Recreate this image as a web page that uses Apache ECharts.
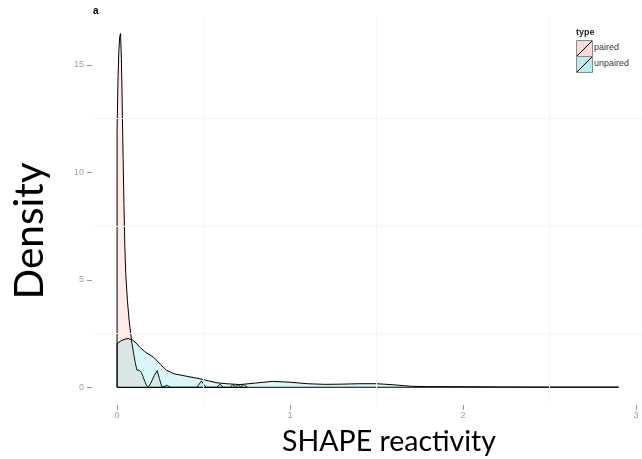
<!DOCTYPE html>
<html>
<head>
<meta charset="utf-8">
<script src="https://cdn.jsdelivr.net/npm/echarts@6/dist/echarts.min.js"></script>
<style>
  html, body { margin: 0; padding: 0; background: #fff; }
  #chart { width: 642px; height: 459px; }
</style>
</head>
<body>
<div id="chart"></div>
<script>
// Kernel density of SHAPE reactivity, split by base-pairing state
const pairedX = [0, 0.005, 0.01, 0.015, 0.02, 0.025, 0.03, 0.035, 0.04, 0.045, 0.05, 0.06, 0.07, 0.083, 0.095,
  0.105, 0.115, 0.122, 0.128, 0.134, 0.141, 0.15, 0.16, 0.17, 0.18, 0.195, 0.215, 0.232, 0.245, 0.258,
  0.27, 0.285, 0.295, 0.31, 0.46, 0.475, 0.488, 0.5, 0.515, 0.575, 0.596, 0.615, 0.655, 0.668, 0.685,
  0.7, 0.715, 0.732, 0.752];
const pairedY = [12.0, 14.2, 15.6, 16.3, 16.45, 15.3, 13.0, 10.6, 8.4, 6.5, 5.3, 4.0, 3.1, 2.2, 1.6,
  1.15, 0.8, 0.72, 0.8, 0.72, 0.68, 0.5, 0.28, 0.1, 0.0, 0.2, 0.55, 0.78, 0.4, 0.05,
  0.03, 0.1, 0.1, 0.0, 0.0, 0.15, 0.3, 0.15, 0.0, 0.0, 0.15, 0.0, 0.0, 0.13, 0.04,
  0.12, 0.03, 0.14, 0.0];

const unpairedX = [0, 0.02, 0.04, 0.064, 0.09, 0.11, 0.131, 0.16, 0.185, 0.21, 0.25, 0.285, 0.33, 0.4, 0.478,
  0.53, 0.58, 0.632, 0.71, 0.8, 0.9, 1.0, 1.1, 1.2, 1.3, 1.4, 1.5, 1.6, 1.7, 1.8, 2.0, 2.2, 2.5, 2.9];
const unpairedY = [2.03, 2.15, 2.23, 2.27, 2.2, 2.06, 1.87, 1.66, 1.53, 1.41, 1.08, 0.8, 0.63, 0.52, 0.4,
  0.3, 0.21, 0.17, 0.13, 0.2, 0.28, 0.24, 0.17, 0.14, 0.15, 0.17, 0.17, 0.12, 0.05, 0.035, 0.03, 0.02, 0.01, 0.01];

const xTicks = [0, 1, 2, 3];
const yTicks = [0, 5, 10, 15];
const xMinorGrid = [0.5, 1.5, 2.5];
const yMinorGrid = [2.5, 7.5, 12.5];

// Closed outline: rise from the baseline at the first x, follow the curve,
// drop to the baseline at the last x, then run back along it.
function outline(xs, ys) {
  const pts = [[xs[0], 0]];
  xs.forEach((x, i) => pts.push([x, ys[i]]));
  pts.push([xs[xs.length - 1], 0]);
  pts.push([xs[0], 0]);
  return pts;
}

const chart = echarts.init(document.getElementById('chart'), null, { renderer: 'canvas' });

const tickColor = '#a0a0a0';
const gridColor = '#f6f6f6';

chart.setOption({
  animation: false,
  backgroundColor: '#ffffff',
  grid: { left: 92, right: 0, top: 16, bottom: 54, containLabel: false },
  xAxis: {
    type: 'value',
    position: 'bottom',
    min: -0.145,
    max: 3.035,
    axisLine: { show: false, onZero: false },
    splitLine: { show: false },
    axisTick: { show: true, customValues: xTicks, length: 5, lineStyle: { color: '#999', width: 1 } },
    axisLabel: {
      customValues: xTicks, color: tickColor, fontSize: 9, margin: 6,
      fontFamily: 'Liberation Sans'
    }
  },
  yAxis: {
    type: 'value',
    position: 'left',
    min: -0.82,
    max: 17.27,
    axisLine: { show: false, onZero: false },
    splitLine: { show: false },
    axisTick: { show: true, customValues: yTicks, length: 5, lineStyle: { color: '#999', width: 1 } },
    axisLabel: {
      customValues: yTicks, color: tickColor, fontSize: 9, margin: 8,
      fontFamily: 'Liberation Sans'
    }
  },
  series: [
    {
      name: 'grid',
      type: 'line',
      data: [],
      z: 0,
      silent: true,
      markLine: {
        silent: true,
        symbol: 'none',
        label: { show: false },
        lineStyle: { color: gridColor, width: 1, type: 'solid' },
        data: xMinorGrid.map(v => ({ xAxis: v })).concat(yMinorGrid.map(v => ({ yAxis: v })))
      }
    },
    {
      name: 'paired',
      type: 'line',
      z: 2,
      symbol: 'none',
      smooth: false,
      data: outline(pairedX, pairedY),
      lineStyle: { color: '#000000', width: 1 },
      areaStyle: { color: 'rgba(248,118,109,0.2)', origin: 0 }
    },
    {
      name: 'unpaired',
      type: 'line',
      z: 3,
      symbol: 'none',
      smooth: false,
      data: outline(unpairedX, unpairedY),
      lineStyle: { color: '#000000', width: 1 },
      areaStyle: { color: 'rgba(0,191,196,0.2)', origin: 0 }
    }
  ],
  graphic: [
    // panel tag
    { type: 'text', left: 93, top: 6, style: { text: 'a', font: 'bold 10px "Liberation Sans"', fill: '#000' } },
    // axis titles
    {
      type: 'text', x: 9, y: 231, rotation: Math.PI / 2,
      style: { text: 'Density', font: '40.5px Lato', fill: '#000', align: 'center', verticalAlign: 'top' }
    },
    {
      type: 'text', x: 389, y: 427,
      style: { text: 'SHAPE reactivity', font: '28.5px Lato', fill: '#000', align: 'center', verticalAlign: 'top' }
    },
    // legend
    { type: 'text', left: 576, top: 28, style: { text: 'type', font: 'bold 9px "Liberation Sans"', fill: '#222' } },
    { type: 'rect', shape: { x: 576.5, y: 40.5, width: 16, height: 16 }, style: { fill: 'rgba(248,118,109,0.28)', stroke: '#8a8a8a', lineWidth: 1 } },
    { type: 'line', shape: { x1: 577, y1: 56, x2: 592, y2: 41 }, style: { stroke: '#000', lineWidth: 1 } },
    { type: 'rect', shape: { x: 576.5, y: 56.5, width: 16, height: 16 }, style: { fill: 'rgba(0,191,196,0.28)', stroke: '#8a8a8a', lineWidth: 1 } },
    { type: 'line', shape: { x1: 577, y1: 72, x2: 592, y2: 57 }, style: { stroke: '#000', lineWidth: 1 } },
    { type: 'text', left: 594, top: 43, style: { text: 'paired', font: '9px "Liberation Sans"', fill: '#333' } },
    { type: 'text', left: 594, top: 59, style: { text: 'unpaired', font: '9px "Liberation Sans"', fill: '#333' } }
  ]
});
</script>
</body>
</html>
